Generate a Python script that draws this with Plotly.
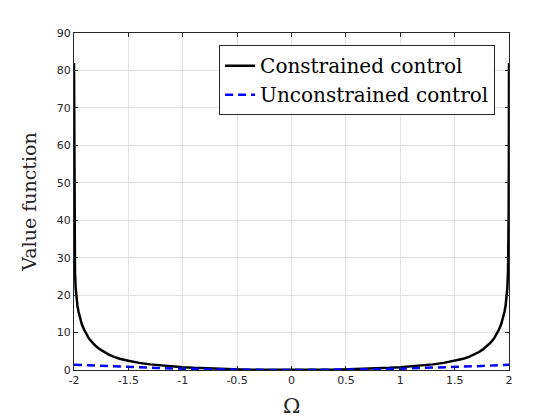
import plotly.graph_objects as go

# Constrained control value function
x_con = [-2.000, -1.999, -1.997, -1.994, -1.991, -1.985, -1.978, -1.969, -1.958, -1.945,
         -1.928, -1.908, -1.885, -1.862, -1.830, -1.800, -1.760, -1.724, -1.680, -1.632,
         -1.580, -1.500, -1.450, -1.400, -1.300, -1.200, -1.100, -1.000, -0.900, -0.800,
         -0.700, -0.600, -0.500, -0.400, -0.300, -0.200, -0.100, 0.000,
         0.100, 0.200, 0.300, 0.400, 0.500, 0.600, 0.700, 0.800, 0.900, 1.000,
         1.100, 1.200, 1.300, 1.400, 1.450, 1.500, 1.580, 1.632, 1.680, 1.724,
         1.760, 1.800, 1.830, 1.862, 1.885, 1.908, 1.928, 1.945, 1.958, 1.969,
         1.978, 1.985, 1.991, 1.994, 1.997, 1.999, 2.000]
y_con = [82, 58, 42, 32, 26.5, 22.0, 19.3, 17.3, 15.5, 13.9,
         12.2, 10.8, 9.5, 8.4, 7.3, 6.4, 5.5, 4.8, 4.1, 3.5,
         3.0, 2.45, 2.15, 1.9, 1.5, 1.2, 0.95, 0.75, 0.58, 0.45,
         0.34, 0.24, 0.16, 0.10, 0.057, 0.025, 0.006, 0.0,
         0.006, 0.025, 0.057, 0.10, 0.16, 0.24, 0.34, 0.45, 0.58, 0.75,
         0.95, 1.2, 1.5, 1.9, 2.15, 2.45, 3.0, 3.5, 4.1, 4.8,
         5.5, 6.4, 7.3, 8.4, 9.5, 10.8, 12.2, 13.9, 15.5, 17.3,
         19.3, 22.0, 26.5, 32, 42, 58, 82]

# Unconstrained control value function
x_unc = [-2.0, -1.75, -1.5, -1.25, -1.0, -0.75, -0.5, -0.25, 0.0,
         0.25, 0.5, 0.75, 1.0, 1.25, 1.5, 1.75, 2.0]
y_unc = [1.4, 1.07, 0.79, 0.55, 0.35, 0.2, 0.088, 0.022, 0.0,
         0.022, 0.088, 0.2, 0.35, 0.55, 0.79, 1.07, 1.4]

x_ticks = [-2, -1.5, -1, -0.5, 0, 0.5, 1, 1.5, 2]
x_ticklabels = ["-2", "-1.5", "-1", "-0.5", "0", "0.5", "1", "1.5", "2"]
y_ticks = [0, 10, 20, 30, 40, 50, 60, 70, 80, 90]
x_title = "Ω"
y_title = "Value function"

serif = "DejaVu Serif"
sans = "DejaVu Sans"

fig = go.Figure()
fig.add_trace(go.Scatter(x=x_con, y=y_con, mode="lines", name="Constrained control",
                         line=dict(color="black", width=2.5)))
fig.add_trace(go.Scatter(x=x_unc, y=y_unc, mode="lines", name="Unconstrained control",
                         line=dict(color="#0000ff", width=2.5, dash="8px,5px")))

axis_common = dict(showline=True, linecolor="#262626", linewidth=1, mirror="ticks",
                   ticks="inside", ticklen=4, tickcolor="#262626", automargin=False,
                   showgrid=True, gridcolor="#e3e3e3", gridwidth=1, zeroline=False,
                   tickfont=dict(family=sans, size=11, color="#262626"))

fig.update_xaxes(range=[-2, 2], tickvals=x_ticks, ticktext=x_ticklabels, **axis_common)
fig.update_yaxes(range=[0, 90], tickvals=y_ticks,
                 title=dict(text=y_title, font=dict(family=serif, size=19, color="#262626")),
                 **axis_common)

# x-axis title as an annotation so it can sit closer to the tick labels
fig.add_annotation(text=x_title, xref="paper", yref="paper", x=0.5, y=0,
                   yshift=-36, xanchor="center", yanchor="middle", showarrow=False,
                   font=dict(family=serif, size=21, color="#262626"))

# the page places the plot 7px right/down, so margins compensate
fig.update_layout(
    width=560, height=420,
    margin=dict(l=66, r=59, t=25, b=58),
    paper_bgcolor="white", plot_bgcolor="white",
    showlegend=True,
    legend=dict(x=0.968, y=0.964, xanchor="right", yanchor="top",
                bgcolor="white", bordercolor="#262626", borderwidth=1,
                font=dict(family=serif, size=20, color="black"),
                tracegroupgap=0, itemwidth=30),
)

fig.write_html("out.html")
